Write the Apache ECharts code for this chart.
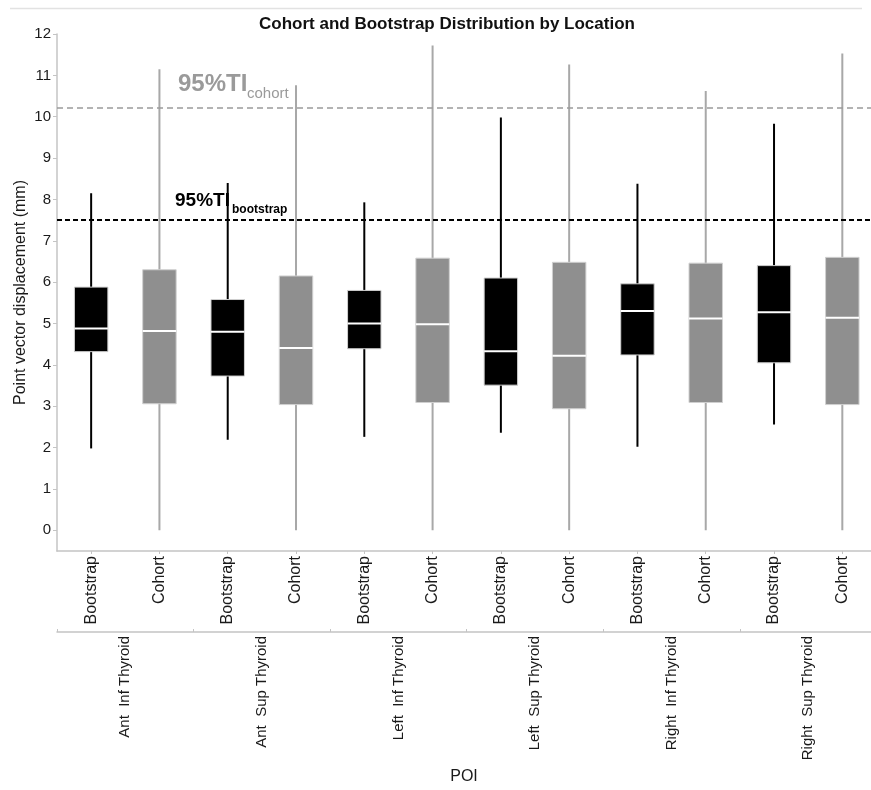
<html>
<head>
    <meta charset="utf-8">
    <title>Cohort and Bootstrap Distribution by Location</title>
    <script src="https://cdn.jsdelivr.net/npm/echarts@6/dist/echarts.min.js"></script>
    <style>
        html, body { margin: 0; padding: 0; background: #fff; }
        #main { width: 871px; height: 790px; }
    </style>
</head>
<body>
<div id="main"></div>
<script>
    // 数据
    var groups = ['Ant  Inf Thyroid', 'Ant  Sup Thyroid', 'Left  Inf Thyroid', 'Left  Sup Thyroid', 'Right  Inf Thyroid', 'Right  Sup Thyroid'];
    var subLabels = ['Bootstrap', 'Cohort'];
    // [min, Q1, median, Q3, max]
    var bootstrapStats = [
        [1.98, 4.32, 4.88, 5.88, 8.15],
        [2.19, 3.73, 4.80, 5.58, 8.40],
        [2.26, 4.39, 5.00, 5.80, 7.93],
        [2.36, 3.51, 4.33, 6.10, 9.98],
        [2.02, 4.24, 5.30, 5.96, 8.38],
        [2.56, 4.05, 5.27, 6.40, 9.83]
    ];
    var cohortStats = [
        [0, 3.06, 4.82, 6.30, 11.15],
        [0, 3.04, 4.41, 6.15, 10.76],
        [0, 3.09, 4.98, 6.58, 11.72],
        [0, 2.94, 4.22, 6.48, 11.26],
        [0, 3.09, 5.12, 6.46, 10.62],
        [0, 3.04, 5.14, 6.60, 11.53]
    ];
    var cohortTI = 10.22;
    var bootstrapTI = 7.52;
    var yTicks = [0, 1, 2, 3, 4, 5, 6, 7, 8, 9, 10, 11, 12];

    // 位置: 每个分组两个箱子
    var boxPos = [], groupPos = [], groupEdges = [];
    groups.forEach(function (g, i) {
        boxPos.push(i * 2, i * 2 + 1);
        groupPos.push(i * 2 + 0.5);
        groupEdges.push(i * 2 - 0.5);
    });

    function buildData(stats, offset) {
        return stats.map(function (s, i) {
            return [i * 2 + offset].concat(s);
        });
    }

    function makeRender(fill, whisker) {
        return function (params, api) {
            var idx = api.value(0);
            var pMin = api.coord([idx, api.value(1)]);
            var pQ1 = api.coord([idx, api.value(2)]);
            var pMed = api.coord([idx, api.value(3)]);
            var pQ3 = api.coord([idx, api.value(4)]);
            var pMax = api.coord([idx, api.value(5)]);
            var w = api.size([1, 0])[0] * 0.49;
            var x = pMed[0];
            return {
                type: 'group',
                children: [{
                    type: 'line',
                    shape: {x1: x, y1: pMin[1], x2: x, y2: pMax[1]},
                    style: {stroke: whisker, lineWidth: 2}
                }, {
                    type: 'rect',
                    shape: {x: x - w / 2, y: pQ3[1], width: w, height: pQ1[1] - pQ3[1]},
                    style: {fill: fill, stroke: '#d0d0d0', lineWidth: 1}
                }, {
                    type: 'line',
                    shape: {x1: x - w / 2, y1: pMed[1], x2: x + w / 2, y2: pMed[1]},
                    style: {stroke: '#ffffff', lineWidth: 2}
                }]
            };
        };
    }

    var myChart = echarts.init(document.getElementById('main'));

    var textColor = '#1a1a1a';
    var axisGray = '#c4c4c4';
    var font = 'Liberation Sans, Arial';

    var option = {
        animation: false,
        backgroundColor: '#fff',
        title: {
            text: 'Cohort and Bootstrap Distribution by Location',
            left: 442,
            top: 11,
            textAlign: 'center',
            textStyle: {fontFamily: font, fontSize: 17, fontWeight: 'bold', color: '#111'}
        },
        grid: {left: 57, top: 34, width: 814, height: 519},
        xAxis: [{
            type: 'value',
            min: -0.5,
            max: 11.42,
            axisLine: {onZero: false, lineStyle: {color: axisGray, width: 1.5}},
            axisTick: {length: 3, lineStyle: {color: axisGray}, customValues: boxPos},
            axisLabel: {
                rotate: 90,
                margin: 5,
                fontSize: 16,
                fontFamily: font,
                color: textColor,
                customValues: boxPos,
                formatter: function (v) { return subLabels[Math.round(v) % 2]; }
            },
            splitLine: {show: false}
        }, {
            type: 'value',
            min: -0.5,
            max: 11.42,
            position: 'bottom',
            offset: 81,
            axisLine: {onZero: false, lineStyle: {color: axisGray, width: 1.5}},
            axisTick: {show: true, inside: true, length: 3, lineStyle: {color: axisGray}, customValues: groupEdges},
            axisLabel: {
                rotate: 90,
                margin: 4,
                fontSize: 15,
                fontFamily: font,
                color: textColor,
                customValues: groupPos,
                formatter: function (v) { return groups[Math.round((v - 0.5) / 2)]; }
            },
            splitLine: {show: false},
            name: 'POI',
            nameLocation: 'middle',
            nameGap: 137,
            nameMoveOverlap: false,
            nameTextStyle: {fontSize: 16, fontFamily: 'Liberation Sans Narrow, Liberation Sans', color: textColor}
        }],
        yAxis: {
            type: 'value',
            min: -0.5,
            max: 12,
            name: 'Point vector displacement (mm)',
            nameLocation: 'middle',
            nameGap: 28,
            nameMoveOverlap: false,
            nameTextStyle: {fontSize: 16, fontFamily: font, color: textColor},
            axisLine: {show: true, onZero: false, lineStyle: {color: axisGray, width: 1.5}},
            axisTick: {show: true, length: 4, lineStyle: {color: axisGray}, customValues: yTicks},
            axisLabel: {fontSize: 15, margin: 6, fontFamily: font, color: textColor, customValues: yTicks},
            splitLine: {show: false}
        },
        graphic: [{
            type: 'line',
            shape: {x1: 10, y1: 8.5, x2: 862, y2: 8.5},
            style: {stroke: '#e2e2e2', lineWidth: 1.5}
        }, {
            type: 'text',
            x: 178, y: 84,
            style: {text: '95%TI', fontSize: 24, fontWeight: 'bold', fontFamily: font, fill: '#9a9a9a', verticalAlign: 'middle'}
        }, {
            type: 'text',
            x: 247, y: 94,
            style: {text: 'cohort', fontSize: 15, fontFamily: font, fill: '#9a9a9a', verticalAlign: 'middle'}
        }, {
            type: 'text',
            x: 175, y: 201,
            style: {text: '95%TI', fontSize: 19, fontWeight: 'bold', fontFamily: font, fill: '#000', verticalAlign: 'middle'}
        }, {
            type: 'text',
            x: 232, y: 210,
            style: {text: 'bootstrap', fontSize: 12, fontWeight: 'bold', fontFamily: font, fill: '#000', verticalAlign: 'middle'}
        }],
        series: [{
            name: 'Bootstrap',
            type: 'custom',
            xAxisIndex: 0,
            renderItem: makeRender('#000000', '#000000'),
            encode: {x: 0, y: [1, 2, 3, 4, 5]},
            data: buildData(bootstrapStats, 0),
            z: 3,
            markLine: {
                silent: true,
                symbol: 'none',
                label: {show: false},
                data: [{
                    yAxis: cohortTI,
                    lineStyle: {color: '#9a9a9a', type: [6, 4], width: 1.5}
                }, {
                    yAxis: bootstrapTI,
                    lineStyle: {color: '#000', type: [5, 3], width: 2}
                }]
            }
        }, {
            name: 'Cohort',
            type: 'custom',
            xAxisIndex: 0,
            renderItem: makeRender('#8f8f8f', '#a8a8a8'),
            encode: {x: 0, y: [1, 2, 3, 4, 5]},
            data: buildData(cohortStats, 1),
            z: 2
        }]
    };

    myChart.setOption(option);
</script>
</body>
</html>
